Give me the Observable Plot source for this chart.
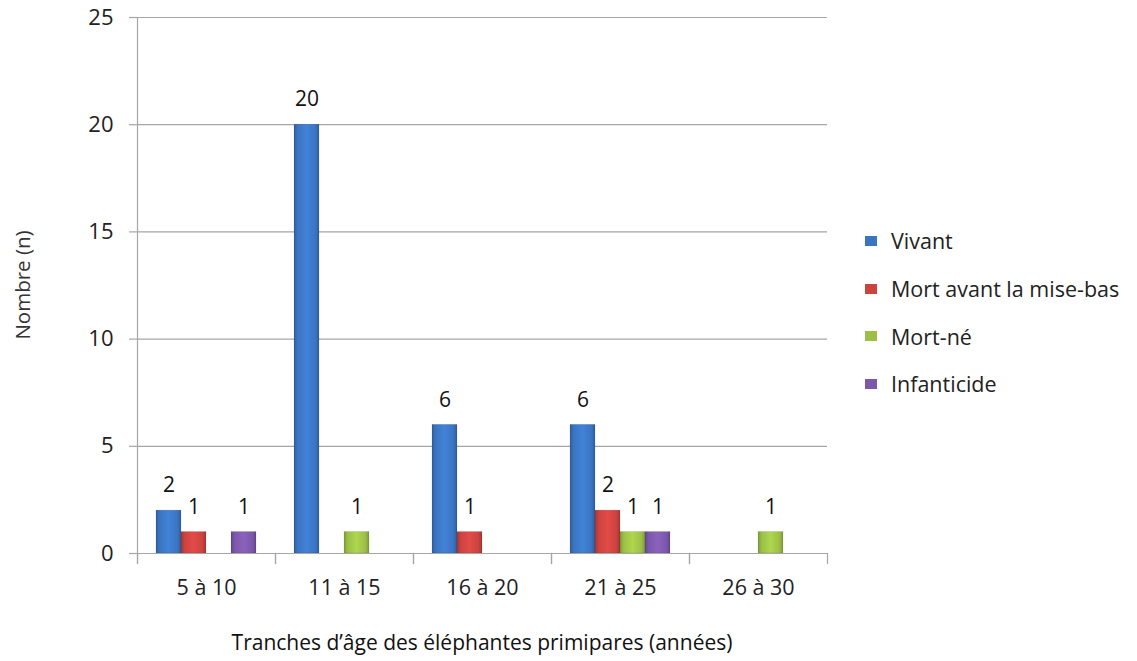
<!DOCTYPE html>
<html>
<head>
<meta charset="utf-8">
<script src="https://cdn.jsdelivr.net/npm/d3@7"></script>
<script src="https://cdn.jsdelivr.net/npm/@observablehq/plot@0.6"></script>
<style>
  html, body { margin: 0; padding: 0; background: #fff; }
  #wrap { position: relative; width: 1137px; height: 661px; font-family: "Open Sans", sans-serif; }
  #legend { position: absolute; left: 865px; top: 217px; font-family: "Open Sans", sans-serif; font-size: 21.5px; color: #222; }
  #legend .row { display: flex; align-items: center; height: 47.7px; white-space: nowrap; }
  #legend .sw { width: 12px; height: 10px; margin-right: 14px; }
</style>
</head>
<body>
<div id="wrap"><div id="chart"></div><div id="legend"></div></div>
<script>
// ---- data ----
const categories = ["5 à 10", "11 à 15", "16 à 20", "21 à 25", "26 à 30"];
const series = ["Vivant", "Mort avant la mise-bas", "Mort-né", "Infanticide"];
const vivant      = [2, 20, 6, 6, null];
const mortAvant   = [1, null, 1, 2, null];
const mortNe      = [null, 1, null, 1, 1];
const infanticide = [1, null, null, 1, null];
const yTicks = [0, 5, 10, 15, 20, 25];
const colors = ["#3b75c2", "#cc4340", "#9cc046", "#7c58ab"];
const gradIds = ["gBlue", "gRed", "gGreen", "gPurple"];
const xTitle = "Tranches d’âge des éléphantes primipares (années)";
const yTitle = "Nombre (n)";

const valuesBySeries = [vivant, mortAvant, mortNe, infanticide];
const rows = [];
categories.forEach((c, i) => {
  series.forEach((s, j) => {
    const v = valuesBySeries[j][i];
    if (v != null) rows.push({cat: c, series: s, value: v});
  });
});

const W = 1137, H = 661;
const mL = 135, mR = 308, mT = 17, mB = 108;
const frameH = H - mT - mB;
const grid = "#a6a6a6";
const FONT = "'Open Sans', sans-serif";

const plot = Plot.plot({
  width: W,
  height: H,
  marginLeft: mL,
  marginRight: mR,
  marginTop: mT,
  marginBottom: mB,
  style: {fontFamily: FONT, fontSize: "20px", color: "#222", background: "transparent"},
  fx: {domain: categories, padding: 0, label: null},
  x: {domain: series, paddingInner: 0, paddingOuter: 0.67, axis: null},
  y: {domain: [0, 25], ticks: yTicks, label: null},
  color: {domain: series, range: gradIds.map(id => `url(#${id})`)},
  marks: [
    Plot.ruleY(yTicks.slice(1), {stroke: grid, strokeWidth: 1.2}),
    Plot.axisY({ticks: yTicks, tickSize: 8, tickPadding: 16, stroke: grid, strokeWidth: 1.2, fontSize: 22, label: null}),
    Plot.axisFx({anchor: "bottom", tickSize: 0, tickPadding: 26, fontSize: 21.5, label: null}),
    Plot.frame({anchor: "left", insetTop: frameH, insetBottom: -10, stroke: grid, strokeWidth: 1.2, strokeOpacity: 1}),
    Plot.frame({anchor: "right", insetTop: frameH, insetBottom: -10, stroke: grid, strokeWidth: 1.2, strokeOpacity: 1}),
    Plot.frame({anchor: "left", facetAnchor: "left", insetBottom: -10, stroke: grid, strokeWidth: 1.2, strokeOpacity: 1}),
    Plot.barY(rows, {fx: "cat", x: "series", y: "value", fill: "series", stroke: "rgba(0,0,0,0.15)", strokeWidth: 0.6}),
    Plot.ruleY([0], {stroke: grid, strokeWidth: 1.2}),
    Plot.text(rows, {fx: "cat", x: "series", y: "value", text: d => String(d.value), dy: -25, lineAnchor: "middle", fontSize: 21, fill: "#111"})
  ]
});

// gradient definitions (style only) for the bevelled bar look
const svg = d3.select(plot);
const defs = svg.insert("defs", ":first-child");
colors.forEach((c, i) => {
  const base = d3.color(c);
  const g = defs.append("linearGradient").attr("id", gradIds[i]).attr("x1", 0).attr("x2", 1).attr("y1", 0).attr("y2", 0);
  g.append("stop").attr("offset", "0%").attr("stop-color", base.darker(0.6));
  g.append("stop").attr("offset", "15%").attr("stop-color", base);
  g.append("stop").attr("offset", "50%").attr("stop-color", base.brighter(0.3));
  g.append("stop").attr("offset", "85%").attr("stop-color", base);
  g.append("stop").attr("offset", "100%").attr("stop-color", base.darker(0.6));
});

// axis titles
svg.append("text")
  .attr("x", mL + (W - mL - mR) / 2).attr("y", H - 11)
  .attr("text-anchor", "middle")
  .style("font-family", FONT).style("font-size", "21px").attr("fill", "#111")
  .text(xTitle);
svg.append("text")
  .attr("transform", `translate(30,${mT + frameH / 2}) rotate(-90)`)
  .attr("text-anchor", "middle")
  .style("font-family", FONT).style("font-size", "20.5px").attr("fill", "#333")
  .text(yTitle);

document.getElementById("chart").appendChild(plot);

// legend
const legend = d3.select("#legend");
series.forEach((s, i) => {
  const r = legend.append("div").attr("class", "row");
  r.append("div").attr("class", "sw").style("background", colors[i]);
  r.append("span").text(s);
});
</script>
</body>
</html>
